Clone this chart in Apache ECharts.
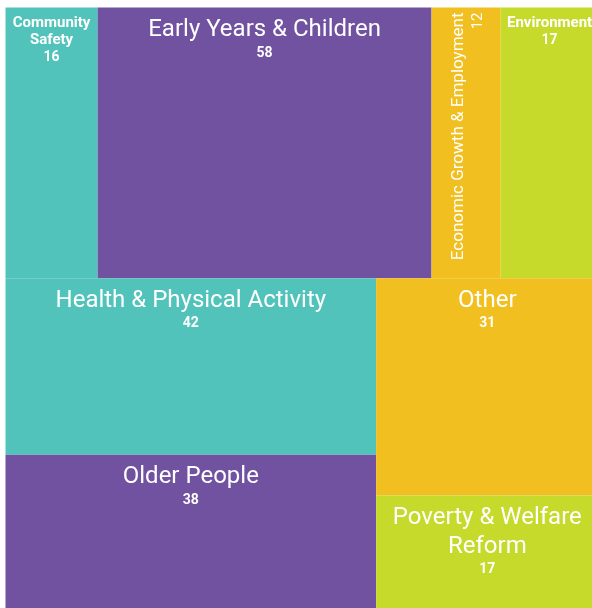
<!DOCTYPE html>
<html><head><meta charset="utf-8">
<script src="https://cdn.jsdelivr.net/npm/echarts@6/dist/echarts.min.js"></script>
<style>html,body{margin:0;padding:0;background:#fff;overflow:hidden}#c{width:592px;height:608px}</style>
</head><body><div id="c"></div>
<script>
// ---- data ----
const categories = [
  'Community Safety',
  'Early Years & Children',
  'Economic Growth & Employment',
  'Environment',
  'Health & Physical Activity',
  'Older People',
  'Other',
  'Poverty & Welfare Reform'
];
const values = [16, 58, 12, 17, 42, 38, 31, 17];

// ---- styles ----
const TEAL = '#52C3BA', PURPLE = '#7152A1', YELLOW = '#F1BF1F', LIME = '#C6DA2C';
const colorByCategory = {
  'Community Safety': TEAL,
  'Early Years & Children': PURPLE,
  'Economic Growth & Employment': YELLOW,
  'Environment': LIME,
  'Health & Physical Activity': TEAL,
  'Older People': PURPLE,
  'Other': YELLOW,
  'Poverty & Welfare Reform': LIME
};
// label style kind per category: L = large, S = small, R = rotated
const labelKindByCategory = {
  'Community Safety': 'S',
  'Early Years & Children': 'L',
  'Economic Growth & Employment': 'R',
  'Environment': 'S',
  'Health & Physical Activity': 'L',
  'Older People': 'L',
  'Other': 'L',
  'Poverty & Welfare Reform': 'L'
};
// number of words on the first label line when the name wraps
const wrapAfterWords = {
  'Community Safety': 1,
  'Poverty & Welfare Reform': 3
};
const FONT = 'Roboto';
const labelOverride = {
  S: { distance: 2 },
  R: {
    rotate: 90,
    position: [16, 5],
    align: 'right',
    verticalAlign: 'top',
    padding: 0
  }
};

const seriesData = categories.map((name, i) => {
  const item = {
    name: name,
    value: values[i],
    itemStyle: { color: colorByCategory[name] }
  };
  const ov = labelOverride[labelKindByCategory[name]];
  if (ov) item.label = ov;
  return item;
});

function wrapName(name) {
  const n = wrapAfterWords[name];
  if (!n) return name;
  const w = name.split(' ');
  return w.slice(0, n).join(' ') + '\n' + w.slice(n).join(' ');
}

function fmt(p) {
  const k = labelKindByCategory[p.name];
  const lines = wrapName(p.name).split('\n').map(s => '{n' + k + '|' + s + '}');
  return lines.join('\n') + '\n{v' + k + '|' + p.value + '}';
}

const chart = echarts.init(document.getElementById('c'), null, { renderer: 'canvas' });
chart.setOption({
  animation: false,
  tooltip: { show: false },
  series: [{
    type: 'treemap',
    left: 5, top: 7, width: 594, height: 608,
    sort: false,
    roam: false,
    nodeClick: false,
    breadcrumb: { show: false },
    emphasis: { disabled: true },
    levels: [{
      itemStyle: { borderColor: '#fff', borderWidth: 0.5, gapWidth: 0 }
    }],
    label: {
      show: true,
      position: 'insideTop',
      distance: 3,
      padding: 5,
      overflow: 'none',
      color: '#fff',
      fontFamily: FONT,
      formatter: fmt,
      rich: {
        nL: { fontSize: 24, lineHeight: 29, color: '#fff', align: 'center', fontFamily: FONT },
        vL: { fontSize: 14, lineHeight: 17, fontWeight: 'bold', color: '#fff', align: 'center', fontFamily: FONT },
        nS: { fontSize: 15, lineHeight: 17, fontWeight: 'bold', color: '#fff', align: 'center', fontFamily: FONT },
        vS: { fontSize: 14, lineHeight: 17, fontWeight: 'bold', color: '#fff', align: 'center', fontFamily: FONT },
        nR: { fontSize: 17, lineHeight: 22, color: '#fff', align: 'right', fontFamily: FONT },
        vR: { fontSize: 15, lineHeight: 17, color: '#fff', align: 'right', fontFamily: FONT }
      }
    },
    data: seriesData
  }]
});
</script></body></html>
